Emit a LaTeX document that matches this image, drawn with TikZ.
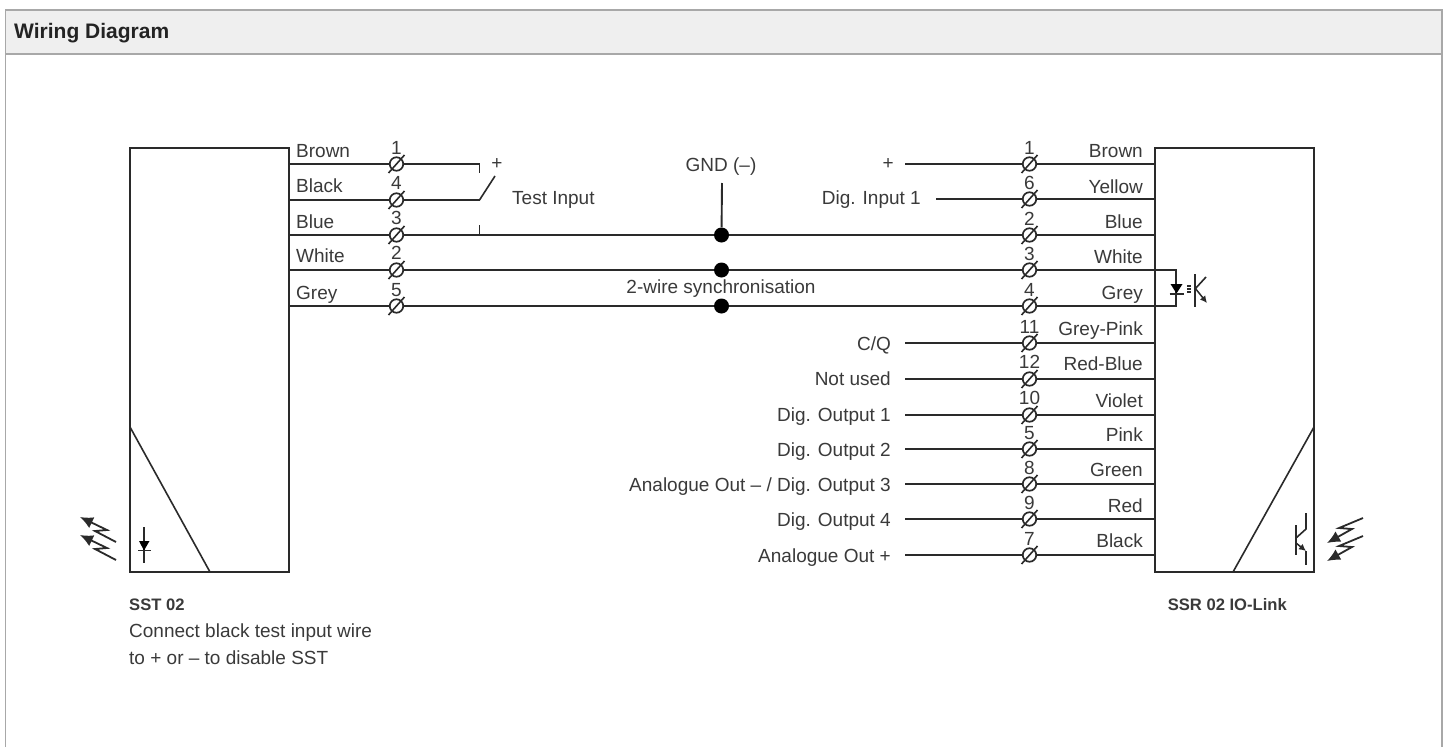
\documentclass[tikz,border=0pt]{standalone}
\usepackage{fontspec}
\setmainfont{Liberation Sans}
\usetikzlibrary{arrows.meta}
\definecolor{ink}{HTML}{2A2A2A}
\definecolor{txt}{HTML}{3A3A3A}
\definecolor{hdr}{HTML}{EFEFEF}
\definecolor{bdr}{HTML}{A8A8A8}
\tikzset{
  wire/.style={draw=ink,line width=1.9pt},
  thin wire/.style={draw=ink,line width=1.6pt},
  boxline/.style={draw=ink,line width=1.9pt},
  term/.style={circle,draw=ink,fill=white,line width=1.7pt,minimum size=13.5pt,inner sep=0pt},
  dot/.style={circle,fill=black,minimum size=15pt,inner sep=0pt},
  lbl/.style={text=txt,font=\fontsize{19}{22}\selectfont,inner sep=0pt},
  lw/.style={lbl,anchor=base west},
  le/.style={lbl,anchor=base east},
  lc/.style={lbl,anchor=base},
  bold label/.style={text=txt,font=\fontsize{16.6}{20}\selectfont\bfseries,inner sep=0pt},
  tip/.style={-{Latex[length=13pt,width=12pt]},draw=ink,line width=1.8pt},
  smalltip/.style={-{Latex[length=7pt,width=7pt]},draw=ink,line width=1.5pt}
}
\newcommand{\slashterm}[1]{\draw[ink,line width=1.6pt] ([shift={(-8,9)}]#1.center) -- ([shift={(8,-9)}]#1.center);}
\begin{document}
\begin{tikzpicture}[x=1pt,y=-1pt]
\useasboundingbox (0,0) rectangle (1450,747);
% panel
\fill[white] (0,0) rectangle (1450,747);
\fill[hdr] (5.5,10) rectangle (1442,54);
\draw[bdr,line width=1.2pt] (5.5,747) -- (5.5,10) -- (1442,10) -- (1442,747);
\draw[bdr,line width=1.2pt] (5.5,54) -- (1442,54);
\node[anchor=base west,inner sep=0pt,text=txt!60!black,font=\fontsize{21}{24}\selectfont\bfseries] (title) at (14,38.5) {Wiring Diagram};
% housings
\coordinate (LTL) at (130,148); \coordinate (LBR) at (289,572);
\coordinate (RTL) at (1155,148); \coordinate (RBR) at (1314,572);
\draw[boxline] (LTL) rectangle (LBR);
\draw[boxline] (RTL) rectangle (RBR);
\draw[thin wire] (130,427) -- (210,572);
\draw[thin wire] (1314,427) -- (1233,572);
% wire end points on the housings
\foreach \n/\y in {1/164,2/200,3/235,4/270,5/306}{
  \coordinate (LB\n) at (289,\y);
}
\foreach \n/\y in {1/164,2/199,3/235,4/270,5/306,6/343,7/379,8/415,9/449,10/484,11/519,12/555}{
  \coordinate (RB\n) at (1155,\y);
}
% free wire ends on the right
\coordinate (Rs1) at (905,164); \coordinate (Rs2) at (936,199);
\foreach \n/\y in {6/343,7/379,8/415,9/449,10/484,11/519,12/555}{
  \coordinate (Rs\n) at (905,\y);
}
% switch points
\coordinate (SWa) at (479.5,164); \coordinate (SWb) at (479.5,173);
\coordinate (SWc) at (479.5,200); \coordinate (SWd) at (495,176);
\coordinate (SWe) at (479.5,225); \coordinate (SWf) at (479.5,235);
% wires behind terminals
\draw[wire] (LB1) -- (SWa) -- (SWb);
\draw[wire] (LB2) -- (SWc);
\draw[thin wire] (SWc) -- (SWd);
\draw[thin wire] (SWe) -- (SWf);
\draw[wire] (LB3) -- (RB3);
\coordinate (OPa) at (1176,270); \coordinate (OPb) at (1176,306);
\draw[wire] (LB4) -- (OPa) -- (OPb) -- (LB5);
\draw[wire] (Rs1) -- (RB1);
\draw[wire] (Rs2) -- (RB2);
\foreach \n in {6,...,12}{\draw[wire] (Rs\n) -- (RB\n);}
% terminals
\foreach \n/\y in {1/164,2/200,3/235,4/270,5/306}{
  \node[term] (LT\n) at (396.5,\y) {};
  \slashterm{LT\n}
}
\foreach \n/\y in {1/164,2/199,3/235,4/270,5/306,6/343,7/379,8/415,9/449,10/484,11/519,12/555}{
  \node[term] (RT\n) at (1029.5,\y) {};
  \slashterm{RT\n}
}
% junction dots
\node[dot] (J1) at (721.5,235) {};
\node[dot] (J2) at (721.5,270) {};
\node[dot] (J3) at (721.5,306) {};
\coordinate (GNDt) at (722,183);
\draw[wire] (GNDt) -- (J1);
% left wire labels
\node[lw] (la) at (296,157.5) {Brown};
\node[lw] (lb) at (296,192.5) {Black};
\node[lw] (lc) at (296,228) {Blue};
\node[lw] (ld) at (296,262) {White};
\node[lw] (le) at (296,299) {Grey};
% left numbers
\node[lc] (na) at (396.5,154) {1};
\node[lc] (nb) at (396.5,189) {4};
\node[lc] (nc) at (396.5,224) {3};
\node[lc] (nd) at (396.5,259) {2};
\node[lc] (ne) at (396.5,296) {5};
% middle labels
\node[lc] (plusL) at (497,169) {+};
\node[lw] (ti) at (512,204) {Test Input};
\node[lc] (gnd) at (721,171) {GND (--)};
\node[lc] (sync) at (721,293.5) {2-wire synchronisation};
\node[le] (plusR) at (894,169) {+};
\node[le] (di1) at (921,204) {Dig. Input 1};
\node[le] (m1) at (891,350.5) {C/Q};
\node[le] (m2) at (891,385.5) {Not used};
\node[le] (m3) at (891,421.5) {Dig. Output 1};
\node[le] (m4) at (891,456.5) {Dig. Output 2};
\node[le] (m5) at (891,491.5) {Analogue Out -- / Dig. Output 3};
\node[le] (m6) at (891,526.5) {Dig. Output 4};
\node[le] (m7) at (891,562.5) {Analogue Out +};
% right numbers
\node[lc] (r1) at (1029.5,154) {1};
\node[lc] (r2) at (1029.5,189) {6};
\node[lc] (r3) at (1029.5,225) {2};
\node[lc] (r4) at (1029.5,260) {3};
\node[lc] (r5) at (1029.5,296) {4};
\node[lc] (r6) at (1029.5,333) {11};
\node[lc] (r7) at (1029.5,368) {12};
\node[lc] (r8) at (1029.5,404) {10};
\node[lc] (r9) at (1029.5,439) {5};
\node[lc] (r10) at (1029.5,474) {8};
\node[lc] (r11) at (1029.5,509) {9};
\node[lc] (r12) at (1029.5,545) {7};
% right wire labels
\node[le] (c1) at (1143,157.5) {Brown};
\node[le] (c2) at (1143,193.5) {Yellow};
\node[le] (c3) at (1143,228.5) {Blue};
\node[le] (c4) at (1143,263.5) {White};
\node[le] (c5) at (1143,299.5) {Grey};
\node[le] (c6) at (1143,335.5) {Grey-Pink};
\node[le] (c7) at (1143,370.5) {Red-Blue};
\node[le] (c8) at (1143,407) {Violet};
\node[le] (c9) at (1143,441.5) {Pink};
\node[le] (c10) at (1143,476.5) {Green};
\node[le] (c11) at (1143,512.5) {Red};
\node[le] (c12) at (1143,547.5) {Black};
% captions
\node[bold label,anchor=base west] (sst) at (129,610) {SST 02};
\node[lw] (sst1) at (129,637.5) {Connect black test input wire};
\node[lw] (sst2) at (129,664.5) {to + or -- to disable SST};
\node[bold label,anchor=base east] (ssr) at (1287,610) {SSR 02 IO-Link};
% optocoupler
\fill[black] (1170.5,284) -- (1182.5,284) -- (1176.5,293.5) -- cycle;
\draw[thin wire] (1169.5,294) -- (1183.5,294);
\foreach \y in {286,289,292}{\draw[ink,line width=1.2pt] (1187,\y) -- (1191,\y);}
\draw[thin wire] (1195,274) -- (1195,307);
\draw[thin wire] (1206,277) -- (1195,289);
\draw[smalltip] (1195,288) -- (1207,303);
% emitter symbol
\draw[thin wire] (144,527) -- (144,563);
\fill[black] (139,541) -- (149.5,541) -- (144,550.5) -- cycle;
\draw[thin wire] (138,550.5) -- (150.5,550.5);
\foreach \d in {0,18}{
  \draw[tip] (116,542+\d) -- (95,531+\d) -- (107,530+\d) -- (80,517+\d);
}
% receiver symbol
\draw[thin wire] (1296,525) -- (1296,555);
\draw[thin wire] (1296,538) -- (1306,529) -- (1306,513);
\draw[thin wire] (1306,551) -- (1306,565);
\draw[smalltip] (1296,543) -- (1306,551);
\foreach \d in {0,18}{
  \draw[tip] (1363,518+\d) -- (1339,528+\d) -- (1352,529+\d) -- (1327,543+\d);
}
\end{tikzpicture}
\end{document}
